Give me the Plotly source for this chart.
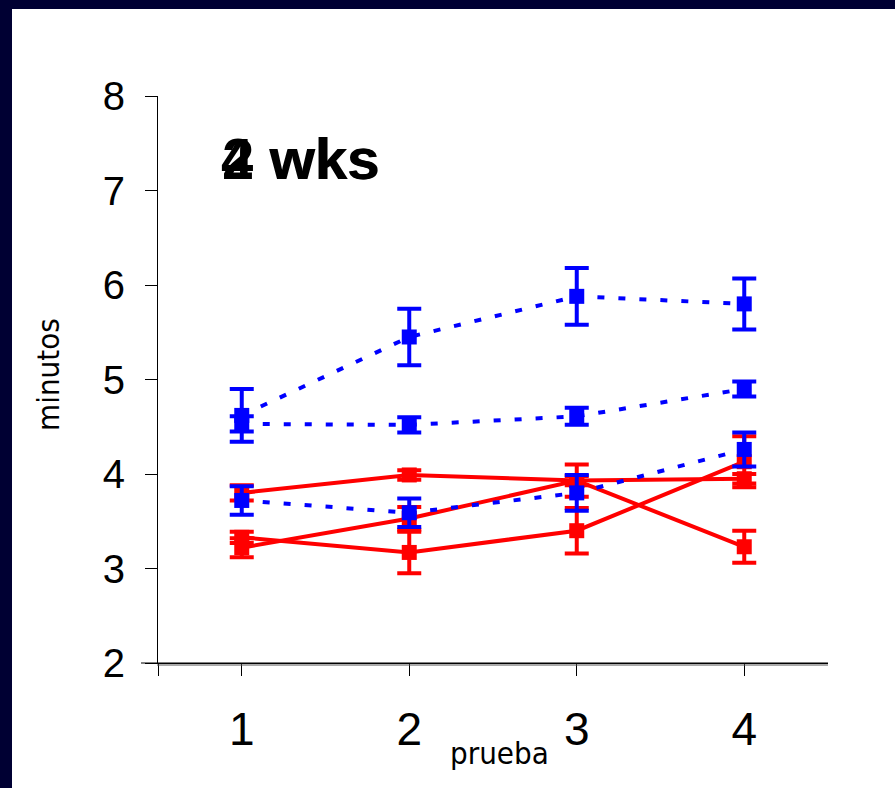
import plotly.graph_objects as go

# ---- data ----
prueba = [1, 2, 3, 4]
tick_labels = ["1", "2", "3", "4"]

blue_1 = [4.62, 5.45, 5.88, 5.80]
blue_1_err = [0.28, 0.30, 0.30, 0.27]
blue_2 = [4.53, 4.52, 4.61, 4.90]
blue_2_err = [0.08, 0.08, 0.09, 0.08]
blue_3 = [3.72, 3.59, 3.80, 4.26]
blue_3_err = [0.15, 0.15, 0.19, 0.18]

red_1 = [3.80, 3.99, 3.93, 3.95]
red_1_err = [0.08, 0.05, 0.05, 0.05]
red_2 = [3.22, 3.53, 3.93, 3.23]
red_2_err = [0.10, 0.12, 0.17, 0.17]
red_3 = [3.33, 3.17, 3.40, 4.13]
red_3_err = [0.06, 0.22, 0.24, 0.27]

W, H = 895, 788
L, R, T, B = 158, 67, 96, 125
NAVY = "#000033"
BLUE = "#0000ff"
RED = "#ff0000"

fig = go.Figure()

def add_series(y, err, color, dash):
    fig.add_trace(go.Scatter(
        x=prueba, y=y, mode="lines+markers",
        line=dict(color=color, width=4, dash=dash),
        marker=dict(symbol="square", size=15, color=color),
        error_y=dict(type="data", array=err, visible=True, color=color,
                     thickness=4, width=12),
        showlegend=False, cliponaxis=False,
    ))

for y, e in [(red_1, red_1_err), (red_2, red_2_err), (red_3, red_3_err)]:
    add_series(y, e, RED, "solid")
for y, e in [(blue_1, blue_1_err), (blue_2, blue_2_err), (blue_3, blue_3_err)]:
    add_series(y, e, BLUE, "7px,14px")

pw = W - L - R
ph = H - T - B
def px_x(p):
    return (p - L) / pw
def px_y(p):
    return (H - B - p) / ph

shapes = [
    # navy frame strips
    dict(type="rect", xref="paper", yref="paper", x0=px_x(0), x1=px_x(12), y0=px_y(H), y1=px_y(0),
         fillcolor=NAVY, line=dict(width=0), layer="above"),
    dict(type="rect", xref="paper", yref="paper", x0=px_x(0), x1=px_x(W), y0=px_y(9), y1=px_y(0),
         fillcolor=NAVY, line=dict(width=0), layer="above"),
    # extended x-axis double line
    dict(type="line", xref="paper", yref="paper", x0=px_x(141), x1=1, y0=0, y1=0,
         line=dict(color="black", width=1)),
    dict(type="line", xref="paper", yref="paper", x0=px_x(157), x1=1, y0=px_y(H - B + 2), y1=px_y(H - B + 2),
         line=dict(color="#555555", width=1)),
]

title_font = dict(family="Liberation Sans, Arial", size=58, color="black")
label_font = dict(family="DejaVu Sans Condensed, DejaVu Sans", size=31, color="black")
annotations = [
    dict(text="<b>4 wks</b>", x=px_x(301), y=px_y(158), xref="paper", yref="paper",
         showarrow=False, font=title_font, xanchor="center", yanchor="middle", xshift=-1),
    dict(text="<b>2 wks</b>", x=px_x(301), y=px_y(158), xref="paper", yref="paper",
         showarrow=False, font=title_font, xanchor="center", yanchor="middle"),
    dict(text="prueba", x=px_x(499), y=px_y(753), xref="paper", yref="paper",
         showarrow=False, font=label_font, xanchor="center", yanchor="middle"),
    dict(text="minutos", x=px_x(48), y=px_y(375), xref="paper", yref="paper", textangle=-90,
         showarrow=False, font=label_font, xanchor="center", yanchor="middle"),
]

fig.update_layout(
    width=W, height=H,
    margin=dict(l=L, r=R, t=T, b=B, pad=0),
    paper_bgcolor="white", plot_bgcolor="white",
    shapes=shapes, annotations=annotations,
    xaxis=dict(range=[0.5, 4.5], tickmode="array", tickvals=[0.5] + prueba,
               ticktext=[""] + tick_labels, showgrid=False, zeroline=False,
               showline=True, linecolor="black", linewidth=1,
               ticks="outside", ticklen=12, tickcolor="black", tickwidth=1,
               tickfont=dict(family="Liberation Sans Narrow, Liberation Sans, Arial", size=46, color="black"),
               ticklabelstandoff=14),
    yaxis=dict(range=[2, 8], tickmode="array", tickvals=[2, 3, 4, 5, 6, 7, 8],
               showgrid=False, zeroline=False,
               showline=True, linecolor="black", linewidth=1,
               ticks="outside", ticklen=12, tickcolor="black", tickwidth=1,
               tickfont=dict(family="Liberation Sans, Arial", size=40, color="black"),
               ticklabelstandoff=12),
)

fig.write_html("out.html", config={"displayModeBar": False},
               post_script="document.body.style.margin='0';document.body.style.overflow='hidden';")
